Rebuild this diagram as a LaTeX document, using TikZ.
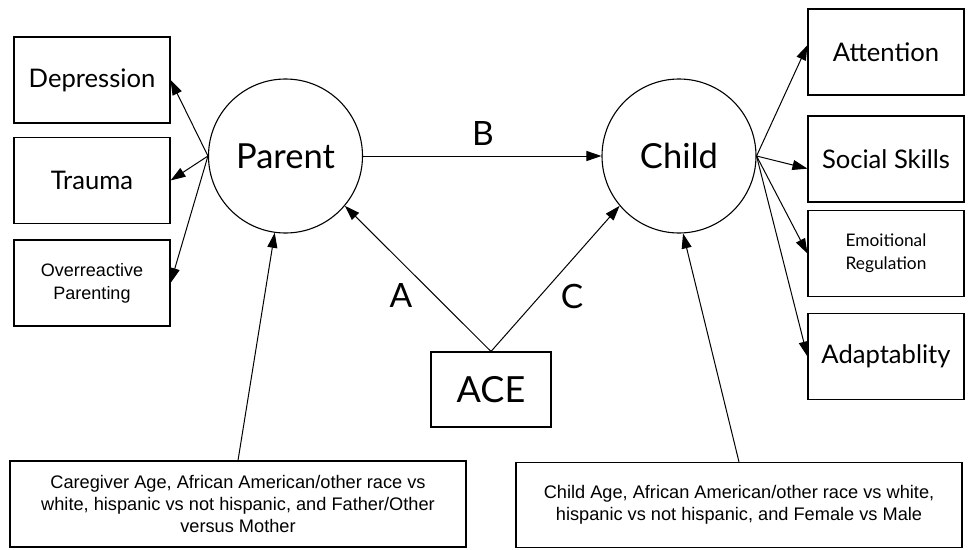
\documentclass[tikz,border=0pt]{standalone}
\usepackage{fontspec}
\setmainfont{Lato}
\newfontfamily\covfont{Liberation Sans}
\usetikzlibrary{arrows.meta}
\begin{document}
\begin{tikzpicture}[x=1pt, y=-1pt, line width=1.1pt,
    outbox/.style={draw, minimum width=156pt, minimum height=86pt, inner sep=0pt, align=center,
      font=\fontsize{25.6}{30}\selectfont},
    latent/.style={draw, circle, minimum size=154pt, inner sep=0pt, font=\fontsize{34.5}{38}\selectfont},
    covbox/.style={draw, inner sep=0pt, align=center, font=\covfont\fontsize{18.2}{22}\selectfont},
    lbl/.style={font=\fontsize{33.5}{36}\selectfont},
    arr/.style={-{Triangle[length=15pt,width=10pt]}, line width=1pt}
]
    % Frame
    \useasboundingbox (0,0) rectangle (968,549);

    % Latent variables
    \node [latent] (par) at (285.5,156) {Parent};
    \node [latent] (chl) at (679,156) {Child};

    % Parent outcomes
    \node [outbox] (dep) at (92,80) {Depression};
    \node [outbox] (trm) at (92,180.5) {Trauma};
    \node [outbox, font=\covfont\fontsize{18}{23}\selectfont] (ovr) at (92,283) {Overreactive\\Parenting};

    % Child outcomes
    \node [outbox] (att) at (886,52) {Attention};
    \node [outbox] (soc) at (886,159) {Social Skills};
    \node [outbox, font=\fontsize{17.3}{23}\selectfont] (emo) at (886,253.5) {Emoitional\\Regulation};
    \node [outbox] (adp) at (886,356.5) {Adaptablity};

    % ACE and covariates
    \node [draw, minimum width=120pt, minimum height=75pt, inner sep=0pt,
      font=\fontsize{36}{40}\selectfont] (ace) at (491,389.5) {ACE};
    \node [covbox, minimum width=456pt, minimum height=86pt] (cov1) at (238,504)
      {Caregiver Age, African American/other race vs\\white, hispanic vs not hispanic, and Father/Other\\versus Mother};
    \node [covbox, minimum width=446pt, minimum height=85pt] (cov2) at (739,505)
      {Child Age, African American/other race vs white,\\hispanic vs not hispanic, and Female vs Male};

    % Path labels
    \node [lbl] (lb) at (483,133) {B};
    \node [lbl] (la) at (401,295) {A};
    \node [lbl] (lc) at (572,296) {C};

    % Draw arrows
    \draw [arr] (par.west) -- (dep.east);
    \draw [arr] (par.west) -- (trm.east);
    \draw [arr] (par.west) -- (ovr.east);
    \draw [arr] (par.east) -- (chl.west);
    \draw [arr] (ace.north) -- (par.-40);
    \draw [arr] (ace.north) -- (chl.220);
    \draw [arr] (chl.east) -- (att.175);
    \draw [arr] (chl.east) -- (soc.187);
    \draw [arr] (chl.east) -- (emo.west);
    \draw [arr] (chl.east) -- (adp.west);
    \draw [arr] (cov1.north) -- (par.-98);
    \draw [arr] (cov2.north) -- (chl.-87);
\end{tikzpicture}
\end{document}
